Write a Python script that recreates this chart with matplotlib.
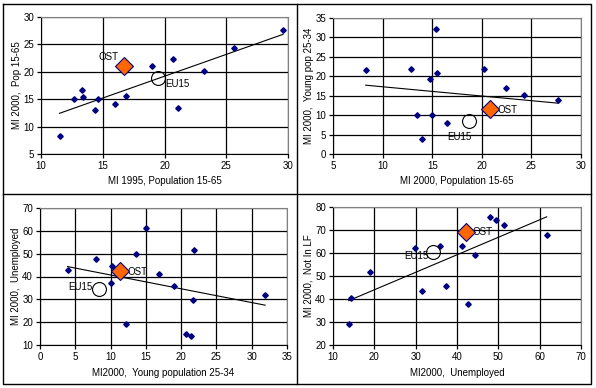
import numpy as np
import matplotlib
matplotlib.use("Agg")
import matplotlib.pyplot as plt

plt.rcParams['font.family'] = ['Liberation Sans', 'DejaVu Sans']
plt.rcParams['font.size'] = 7

# ---- data (blue points = regions, plus OST and EU15) ----
p1_x = [11.5, 12.7, 13.3, 13.4, 14.4, 14.6, 16.0, 16.9, 19.0, 20.7, 21.1, 23.2, 25.6, 29.6]
p1_y = [8.3, 15.0, 16.6, 15.4, 13.0, 15.0, 14.1, 15.5, 21.1, 22.4, 13.4, 20.2, 24.3, 27.7]
p1_ost = (16.7, 21.0)
p1_eu = (19.5, 18.8)

p2_x = [8.3, 12.9, 13.45, 14.0, 14.8, 15.0, 15.35, 15.45, 16.5, 20.2, 21.1, 22.4, 24.25, 27.7]
p2_y = [21.6, 21.9, 10.1, 3.8, 19.2, 10.1, 32.1, 20.9, 8.1, 22.0, 12.1, 17.0, 15.2, 13.8]
p2_ost = (20.85, 11.5)
p2_eu = (18.7, 8.6)

p3_x = [3.9, 8.0, 10.05, 10.25, 12.15, 13.6, 15.05, 16.85, 19.05, 20.75, 21.4, 21.7, 21.8, 31.9]
p3_y = [42.8, 47.8, 37.3, 44.6, 19.0, 49.8, 61.4, 41.3, 36.0, 14.6, 14.0, 29.7, 51.4, 32.0]
p3_ost = (11.3, 42.5)
p3_eu = (8.35, 34.4)

p4_x = [13.8, 14.45, 18.9, 29.85, 31.65, 35.85, 37.4, 41.2, 42.55, 44.3, 47.95, 49.55, 51.35, 61.7]
p4_y = [29.0, 40.3, 51.6, 62.3, 43.4, 63.0, 45.8, 63.1, 37.8, 59.0, 75.5, 74.5, 72.0, 68.0]
p4_ost = (42.15, 69.0)
p4_eu = (34.2, 60.4)

panels = [
    dict(x=p1_x, y=p1_y, ost=p1_ost, eu=p1_eu, xlim=(10, 30), ylim=(5, 30), xstep=5, ystep=5,
         xlabel="MI 1995, Population 15-65", ylabel="MI 2000,  Pop 15-65",
         box=(41, 17, 288, 154), ost_off=(-15, 9), eu_off=(19, -6)),
    dict(x=p2_x, y=p2_y, ost=p2_ost, eu=p2_eu, xlim=(5, 30), ylim=(0, 35), xstep=5, ystep=5,
         xlabel="MI 2000, Population 15-65", ylabel="MI 2000,  Young pop 25-34",
         box=(333, 18, 581, 154), ost_off=(17, -1), eu_off=(-10, -16)),
    dict(x=p3_x, y=p3_y, ost=p3_ost, eu=p3_eu, xlim=(0, 35), ylim=(10, 70), xstep=5, ystep=10,
         xlabel="MI2000,  Young population 25-34", ylabel="MI 2000,  Unemployed",
         box=(40, 208, 287, 345), ost_off=(18, -1), eu_off=(-19, 2)),
    dict(x=p4_x, y=p4_y, ost=p4_ost, eu=p4_eu, xlim=(10, 70), ylim=(20, 80), xstep=10, ystep=10,
         xlabel="MI2000,  Unemployed", ylabel="MI 2000,  Not In LF",
         box=(333, 207, 581, 345), ost_off=(17, 0), eu_off=(-17, -4)),
]

W, H = 596, 388
fig = plt.figure(figsize=(W / 100, H / 100), dpi=100)

# panel frames
bg = fig.add_axes([0, 0, 1, 1])
bg.set_xlim(0, W)
bg.set_ylim(H, 0)
bg.axis("off")
bg.plot([3, 591, 591, 3, 3], [4, 4, 384, 384, 4], color="black", lw=1)
bg.plot([297, 297], [4, 384], color="black", lw=1)
bg.plot([3, 591], [194, 194], color="black", lw=1)

for p in panels:
    x0, y0, x1, y1 = p["box"]
    ax = fig.add_axes([x0 / W, 1 - y1 / H, (x1 - x0) / W, (y1 - y0) / H])
    ax.set_xlim(*p["xlim"])
    ax.set_ylim(*p["ylim"])
    ax.set_xticks(np.arange(p["xlim"][0], p["xlim"][1] + 0.1, p["xstep"]))
    ax.set_yticks(np.arange(p["ylim"][0], p["ylim"][1] + 0.1, p["ystep"]))
    ax.grid(True, color="black", lw=0.9)
    ax.set_axisbelow(True)
    for s in ("top", "right"):
        ax.spines[s].set_color("#808080")
    for s in ("left", "bottom"):
        ax.spines[s].set_color("black")
    ax.tick_params(direction="out", length=3, width=0.9, pad=2, labelsize=7)
    ax.set_xlabel(p["xlabel"], fontsize=7, labelpad=4)
    ax.set_ylabel(p["ylabel"], fontsize=7, labelpad=1)

    # trend line fitted on all points, drawn over the region range
    allx = np.array(p["x"] + [p["ost"][0], p["eu"][0]])
    ally = np.array(p["y"] + [p["ost"][1], p["eu"][1]])
    k, b = np.polyfit(allx, ally, 1)
    tx = np.array([min(p["x"]), max(p["x"])])
    ax.plot(tx, k * tx + b, color="black", lw=0.8, zorder=3)

    ax.plot(p["x"], p["y"], "D", color="#000080", ms=2.8, mec="#000080", zorder=4)
    ax.plot(*p["ost"], "D", color="#ff6600", ms=9.5, mec="#000080", mew=0.8, zorder=5)
    ax.plot(*p["eu"], "o", mfc="none", mec="black", ms=10, mew=0.8, zorder=5)
    ax.annotate("OST", p["ost"], xytext=p["ost_off"], textcoords="offset pixels",
                ha="center", va="center", fontsize=7)
    ax.annotate("EU15", p["eu"], xytext=p["eu_off"], textcoords="offset pixels",
                ha="center", va="center", fontsize=7)

fig.savefig("out.png", dpi=100)
